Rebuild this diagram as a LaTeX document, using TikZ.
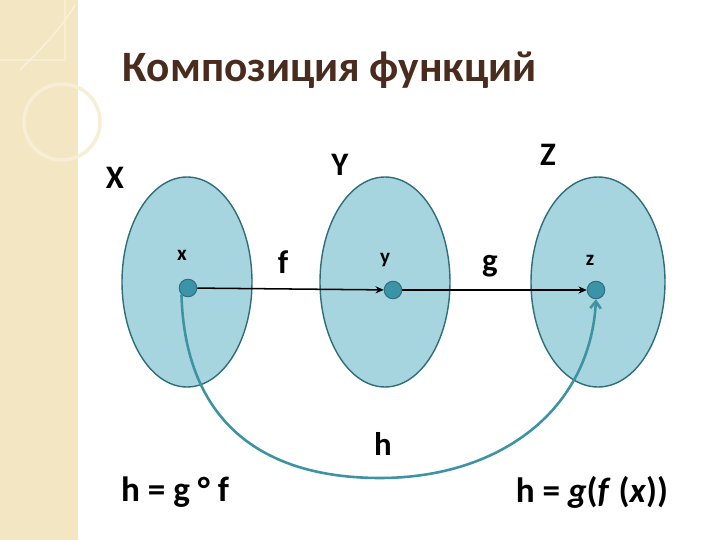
\documentclass[tikz,border=0pt]{standalone}
\usepackage{fontspec}
\setmainfont{Carlito}
\usetikzlibrary{arrows.meta}
\definecolor{fillb}{HTML}{A7D5DF}
\definecolor{edgeb}{HTML}{2F6E78}
\definecolor{dotc}{HTML}{3A93A6}
\definecolor{curvec}{HTML}{3E93A3}
\definecolor{beige}{HTML}{F3E7C3}
\definecolor{titlec}{HTML}{4A2C1E}
\begin{document}
\begin{tikzpicture}[x=0.03cm,y=-0.03cm,
  pt/.style={circle,draw=edgeb,fill=dotc,line width=0.8pt,minimum size=15,inner sep=0pt},
  big/.style={font=\bfseries\fontsize{28}{32}\selectfont},
  eq/.style={font=\bfseries\fontsize{30}{34}\selectfont},
  small/.style={font=\bfseries\fontsize{18}{20}\selectfont},
  map/.style={-{Stealth[length=7pt,width=6pt]},line width=1.3pt}]
\useasboundingbox (0,0) rectangle (720,540);
\fill[white] (0,0) rectangle (720,540);
\fill[beige] (0,0) rectangle (78,540);
\draw[white!30!beige,line width=3pt] (62,122) circle (38);
\draw[white!40!beige,line width=1.2pt] (0,60) -- (65,60) (65,0) -- (65,60) (20,70) .. controls (40,50) and (60,30) .. (75,5);
\node[font=\bfseries\fontsize{37}{42}\selectfont,text=titlec] (title) at (330,70) {Композиция функций};
\fill[fillb,draw=edgeb,line width=1.2pt] (187,282) ellipse (65 and 105);
\fill[fillb,draw=edgeb,line width=1.2pt] (385,282) ellipse (65 and 105);
\fill[fillb,draw=edgeb,line width=1.2pt] (598,282) ellipse (67 and 105);
\node[big] (LX) at (115,178) {X};
\node[big] (LY) at (340,165) {Y};
\node[big] (LZ) at (548,155) {Z};
\node[pt] (x) at (188,288) {};
\node[pt] (y) at (393,290) {};
\node[pt] (z) at (596,290) {};
\node[small] (lx) at (182,255) {x};
\node[small] (ly) at (385,260) {y};
\node[small] (lz) at (590,260) {z};
\node[big] (lf) at (283,262) {f};
\node[big] (lg) at (490,266) {g};
\draw[map] (x) -- (y);
\draw[map] (y) -- (z);
\draw[curvec,line width=2.2pt,-{Straight Barb[length=6pt,width=9pt]}] (x.south west) .. controls (185,420) and (260,478) .. (380,478) .. controls (500,478) and (590,410) .. (z.south);
\node[big] (lh) at (383,444) {h};
\node[eq] (eq1) at (175,492) {h = g ° f};
\node[eq] (eq2) at (592,492) {h = \textit{g}(\textit{f} (\textit{x}))};
\end{tikzpicture}
\end{document}
